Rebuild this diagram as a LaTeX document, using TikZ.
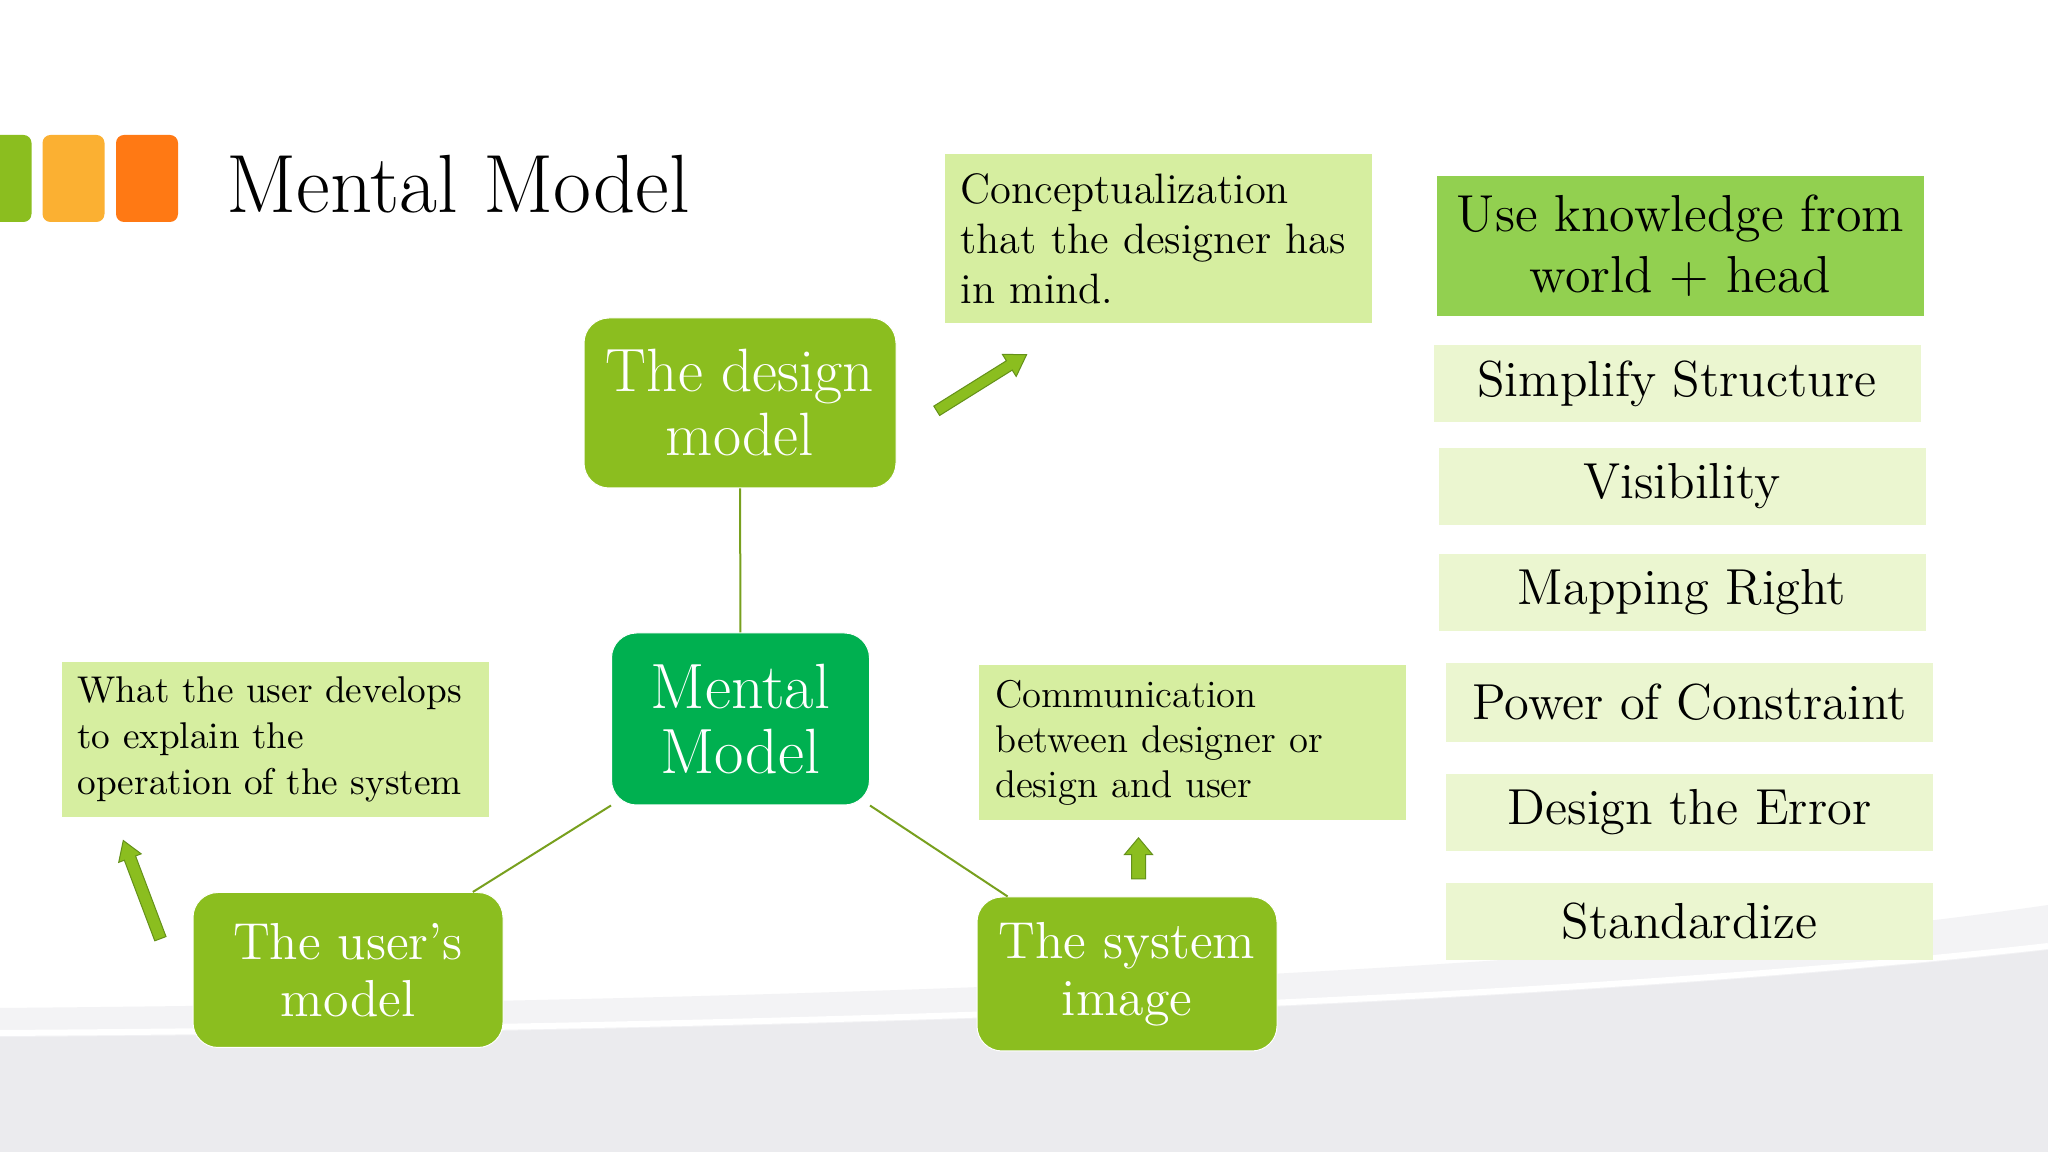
\documentclass[tikz,border=0pt]{standalone}
\usepackage{tikz}
\usetikzlibrary{shapes.arrows}

\definecolor{leafgreen}{RGB}{139,190,31}
\definecolor{mintgreen}{RGB}{0,176,80}
\definecolor{notegreen}{RGB}{214,238,160}
\definecolor{palegreen}{RGB}{235,246,208}
\definecolor{limegreen}{RGB}{146,208,80}
\definecolor{sqyellow}{RGB}{251,176,50}
\definecolor{sqorange}{RGB}{255,121,20}
\definecolor{linkgreen}{RGB}{120,160,30}
\definecolor{arrowedge}{RGB}{100,145,25}
\definecolor{bglight}{RGB}{243,243,245}
\definecolor{bgdark}{RGB}{235,235,238}

\newcommand\fTitle{\fontsize{23.5}{26}\selectfont}
\newcommand\fModel{\fontsize{17.4}{18.2}\selectfont}
\newcommand\fCenter{\fontsize{18.2}{18.5}\selectfont}
\newcommand\fUser{\fontsize{14.8}{16.2}\selectfont}
\newcommand\fConcept{\fontsize{12.1}{14.2}\selectfont}
\newcommand\fNote{\fontsize{10.6}{13}\selectfont}
\newcommand\fComm{\fontsize{11}{12.8}\selectfont}
\newcommand\fRule{\fontsize{14.4}{17.4}\selectfont}

\tikzset{
  modelbox/.style={rectangle, rounded corners=2.5mm, fill=leafgreen,
    draw=white, line width=0.1mm, text=white, align=center},
  notebox/.style={rectangle, fill=notegreen, align=left,
    inner xsep=1.6mm, text width=39.5mm},
  rulebox/.style={rectangle, fill=palegreen, align=center,
    minimum width=48.7mm, minimum height=7.7mm, font=\fRule},
  square/.style={rectangle, rounded corners=0.8mm,
    minimum width=6.2mm, minimum height=8.7mm},
  blockarrow/.style={single arrow, fill=leafgreen, draw=arrowedge,
    line width=0.1mm, single arrow tip angle=65},
  link/.style={draw=linkgreen, line width=0.2mm},
}

\begin{document}
\begin{tikzpicture}[x=0.1mm, y=-0.1mm]
\def\px{0.1mm}

% page and background swoosh
\useasboundingbox (0,0) rectangle (2048,1152);
\fill[white] (0,0) rectangle (2048,1152);
\fill[bglight] (0,1008) .. controls (900,1000) and (1600,970) .. (2048,905)
  -- (2048,1152) -- (0,1152) -- cycle;
\fill[bgdark] (0,1037) .. controls (900,1031) and (1600,1001) .. (2048,950)
  -- (2048,1152) -- (0,1152) -- cycle;
\draw[white, line width=6*\px] (0,1033) .. controls (900,1027) and (1600,997) .. (2048,946);

% title
\node[square, fill=leafgreen] (sq1) at (0.5,178.5) {};
\node[square, fill=sqyellow] (sq2) at (73.5,178.5) {};
\node[square, fill=sqorange] (sq3) at (147,178.5) {};
\node[anchor=base west, inner sep=0, font=\fTitle] (title) at (226,213) {Mental Model};

% the three models
\node[modelbox, fill=mintgreen,
      minimum width=258*\px,
      minimum height=172*\px,
      font=\fCenter] (mm) at (740.5,719) {Mental\\Model};

\node[modelbox,
      minimum width=312*\px,
      minimum height=170*\px,
      font=\fModel] (dm) at (740,403) {The design\\model};

\node[modelbox,
      minimum width=310*\px,
      minimum height=155*\px,
      font=\fUser] (um) at (348,970) {The user’s\\model};

\node[modelbox,
      minimum width=300*\px,
      minimum height=154*\px,
      font=\fUser] (si) at (1127,974) {The system\\image};

\draw[link] (dm) -- (mm);
\draw[link] (mm.south west) -- (um.32);
\draw[link] (mm.south east) -- (si.147);

% notes
\node[notebox, minimum height=169*\px, font=\fConcept] (cz) at (1158,238.5)
  {Conceptualization\\that the designer has\\in mind.};
\node[notebox, minimum height=155*\px, font=\fNote] (wu) at (275,739.5)
  {What the user develops\\to explain the\\operation of the system};
\node[notebox, minimum height=155*\px, font=\fComm] (cm) at (1192.5,742.5)
  {Communication\\between designer or\\design and user};

\node[blockarrow, rotate=32, minimum height=106*\px,
      inner sep=5*\px, single arrow head extend=7.5*\px] (ar1) at (978,385) {};
\node[blockarrow, rotate=110.7, minimum height=105*\px,
      inner sep=5.5*\px, single arrow head extend=6*\px] (ar2) at (143.5,894) {};
\node[blockarrow, rotate=90, minimum height=41*\px,
      inner sep=6.5*\px, single arrow head extend=7*\px,
      single arrow tip angle=80] (ar3) at (1138.5,862.5) {};

% design principles
\node[rulebox, fill=limegreen, minimum height=140*\px,
      font=\fontsize{14.8}{17.4}\selectfont] (r1) at (1680.5,246)
  {Use knowledge from\\world + head};
\node[rulebox] (r2) at (1677,383.5) {Simplify Structure};
\node[rulebox] (r3) at (1682,486.5) {Visibility};
\node[rulebox] (r4) at (1682,592.5) {Mapping Right};
\node[rulebox, minimum height=79*\px] (r5) at (1689.5,702.5) {Power of Constraint};
\node[rulebox] (r6) at (1689.5,812.5) {Design the Error};
\node[rulebox] (r7) at (1689.5,921.5) {Standardize};
\end{tikzpicture}
\end{document}
